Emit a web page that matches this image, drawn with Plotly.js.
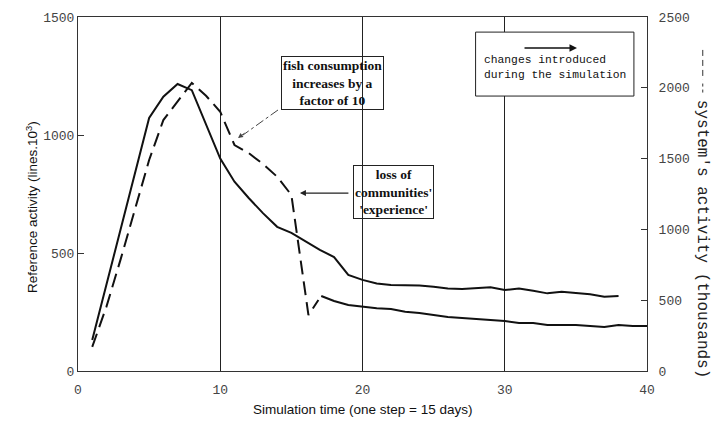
<!DOCTYPE html>
<html>
<head>
<meta charset="utf-8">
<script src="https://cdn.plot.ly/plotly-3.0.1.min.js"></script>
<style>html,body{margin:0;padding:0;background:#fff;}#chart{width:719px;height:422px;}</style>
</head>
<body>
<div id="chart"></div>
<script>
// Reference activity (lines.10^3), left axis
var tRef = [1,2,3,4,5,6,7,8,9,10,11,12,13,14,15,16,17,18,19,20,21,22,23,24,25,26,27,28,29,30,31,32,33,34,35,36,37,38];
var refActivity = [131,366,601,837,1072,1162,1216,1190,1042,900,802,733,669,611,585,548,513,483,407,386,371,364,364,362,357,350,347,350,355,343,350,340,329,336,332,325,315,318];

// System's activity (thousands), right axis - dashed part
var tSys = [1,2,3,4,5,6,7,8,9,10,11,12,13,14,15,16.2,16.9];
var sysActivity = [170,455,790,1132,1490,1772,1902,2034,1944,1831,1596,1539,1462,1372,1243,395,501];

// System's activity (thousands), right axis - continuation
var tSys2 = [17.1,18,19,20,21,22,23,24,25,26,27,28,29,30,31,32,33,34,35,36,37,38,39,40];
var sysActivity2 = [530,494,466,452,443,438,419,410,395,381,374,367,360,353,339,339,325,325,325,318,311,325,318,318];

var xTicks = [0,10,20,30,40];
var yTicks = [0,500,1000,1500];
var y2Ticks = [0,500,1000,1500,2000,2500];

var monoTick = {family:'Liberation Mono, Courier New, monospace', size:13, color:'#444'};
var serifBold = {family:'Liberation Serif, Times New Roman, serif', size:13.5, color:'#111'};

var traces = [
  {x:tRef, y:refActivity, type:'scatter', mode:'lines', yaxis:'y',
   line:{color:'#111', width:2}, hoverinfo:'skip'},
  {x:tSys, y:sysActivity, type:'scatter', mode:'lines', yaxis:'y2',
   line:{color:'#111', width:2, dash:'14px,7px'}, hoverinfo:'skip'},
  {x:tSys2, y:sysActivity2, type:'scatter', mode:'lines', yaxis:'y2',
   line:{color:'#111', width:2}, hoverinfo:'skip'}
];

var layout = {
  width:719, height:422,
  margin:{l:78, r:72, t:17, b:51, pad:0},
  paper_bgcolor:'#fff', plot_bgcolor:'#fff',
  showlegend:false,
  xaxis:{range:[0,40], tickvals:xTicks, ticktext:xTicks.map(String),
    showgrid:true, gridcolor:'#222', gridwidth:1, zeroline:false,
    showline:true, linecolor:'#333', linewidth:1, mirror:true, ticks:'',
    ticklabelstandoff:6, tickfont:monoTick},
  yaxis:{range:[0,1500], tickvals:yTicks, ticktext:yTicks.map(String),
    showgrid:false, zeroline:false, showline:true, linecolor:'#333', linewidth:1,
    ticks:'inside', ticklen:6, tickcolor:'#333', tickfont:monoTick},
  yaxis2:{range:[0,2500], tickvals:y2Ticks, ticktext:y2Ticks.map(String),
    overlaying:'y', side:'right', showgrid:false, zeroline:false,
    showline:true, linecolor:'#333', linewidth:1,
    ticks:'inside', ticklen:6, tickcolor:'#333', ticklabelstandoff:8, tickfont:monoTick},
  shapes:[
    {type:'rect', xref:'x', yref:'y', x0:27.95, x1:39.08, y0:1165, y1:1436,
     line:{color:'#222', width:1}, fillcolor:'#fff', layer:'above'},
    {type:'line', xref:'x', yref:'y', x0:14.06, y0:1106, x1:11.6, y1:1000,
     line:{color:'#444', width:1, dash:'dashdot'}},
    {type:'line', xref:'paper', yref:'paper', x0:1.098, x1:1.098, y0:0.907, y1:0.822,
     line:{color:'#333', width:1, dash:'6px,4px'}},
    {type:'line', xref:'paper', yref:'paper', x0:1.098, x1:1.098, y0:0.812, y1:0.783,
     line:{color:'#333', width:1, dash:'dot'}}
  ],
  annotations:[
    {xref:'paper', yref:'paper', x:-0.081, y:0.463, xanchor:'center', yanchor:'middle',
     text:'Reference activity (lines.10<sup>3</sup>)', textangle:-90, showarrow:false,
     font:{family:'Liberation Sans, Arial, sans-serif', size:13.5, color:'#111'}},
    {xref:'paper', yref:'paper', x:0.5, y:-0.110, xanchor:'center', yanchor:'middle',
     text:'Simulation time (one step = 15 days)', showarrow:false,
     font:{family:'Liberation Sans, Arial, sans-serif', size:13.5, color:'#111'}},
    {xref:'paper', yref:'paper', x:1.098, y:0.374, xanchor:'center', yanchor:'middle',
     text:"system's activity (thousands)", textangle:90, showarrow:false,
     font:{family:'Liberation Mono, Courier New, monospace', size:16, color:'#222'}},
    {xref:'x', yref:'y', x:17.86, y:1220, xanchor:'center', yanchor:'middle',
     text:'<b>fish consumption<br>increases by a<br>factor of 10</b>', showarrow:false,
     bordercolor:'#222', borderwidth:1, borderpad:1, bgcolor:'rgba(0,0,0,0)', font:serifBold},
    {xref:'x', yref:'y', x:22.2, y:758, xanchor:'center', yanchor:'middle',
     text:"<b>loss of<br>communities'<br>'experience'</b>", showarrow:false,
     bordercolor:'#222', borderwidth:1, borderpad:1, bgcolor:'rgba(0,0,0,0)', font:serifBold},
    {xref:'x', yref:'y', x:28.4, y:1288, xanchor:'left', yanchor:'middle', align:'left',
     text:'changes introduced<br>during the simulation', showarrow:false,
     font:{family:'Liberation Mono, Courier New, monospace', size:11.3, color:'#111'}},
    {xref:'x', yref:'y', x:35.08, y:1369, text:'', showarrow:true, arrowhead:2, arrowsize:1,
     arrowwidth:1.5, arrowcolor:'#111', ax:-54, ay:0},
    {xref:'x', yref:'y', x:15.6, y:754, text:'', showarrow:true, arrowhead:2, arrowsize:1,
     arrowwidth:1.2, arrowcolor:'#222', ax:50, ay:0},
    {xref:'x', yref:'y', x:11.25, y:987, text:'', showarrow:true, arrowhead:2, arrowsize:1,
     arrowwidth:1, arrowcolor:'#444', ax:8, ay:-6},
    {xref:'x', yref:'y2', x:40.1, y:375, text:'*', showarrow:false, xanchor:'left',
     font:{family:'Liberation Sans, Arial, sans-serif', size:9, color:'#222'}}
  ]
};

Plotly.newPlot('chart', traces, layout, {staticPlot:true, displayModeBar:false});
</script>
</body>
</html>
